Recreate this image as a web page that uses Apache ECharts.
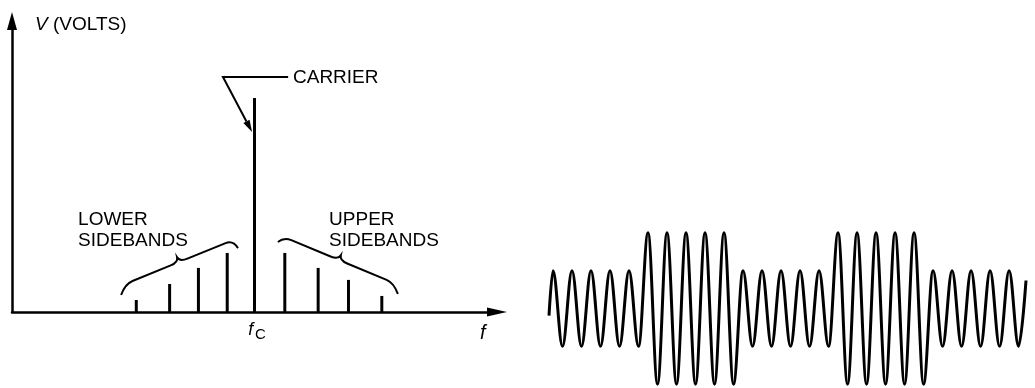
<!DOCTYPE html>
<html>
<head>
<meta charset="utf-8">
<script src="https://cdn.jsdelivr.net/npm/echarts@6.0.0/dist/echarts.min.js"></script>
<style>
html, body { margin: 0; padding: 0; background: #fff; }
#main { width: 1035px; height: 388px; }
</style>
</head>
<body>
<div id="main"></div>
<script>
// spectrum lines: offset from the carrier (in sideband spacings) and height
var lineFreq = [-3.9, -2.8, -1.85, -0.9, 0, 1.0, 2.1, 3.1, 4.2];
var lineVolts = [0.56, 1.31, 2.06, 2.76, 10, 2.76, 2.06, 1.5, 0.75];

// modulated wave: turning points (time in carrier cycles)
var waveTime = [-0.21,
  0, 0.5, 1, 1.5, 2, 2.5, 3, 3.5, 4, 4.5,
  5, 5.5, 6, 6.5, 7, 7.5, 8, 8.5, 9, 9.5,
  10, 10.5, 11, 11.5, 12, 12.5, 13, 13.5, 14, 14.5,
  15, 15.5, 16, 16.5, 17, 17.5, 18, 18.5, 19, 19.5,
  20, 20.5, 21, 21.5, 22, 22.5, 23, 23.5, 24, 24.5,
  24.89];
var waveVolts = [-0.19,
  1, -1, 1, -1, 1, -1, 1, -1, 1, -1,
  2, -2, 2, -2, 2, -2, 2, -2, 2, -2,
  1, -1, 1, -1, 1, -1, 1, -1, 1, -1,
  2, -2, 2, -2, 2, -2, 2, -2, 2, -2,
  1, -1, 1, -1, 1, -1, 1, -1, 1, -1,
  0.74];

var FONT = '"Liberation Sans", Arial, sans-serif';

// curly brace between two corners, hooks drop toward the lines
function bracePath(a, b, endA, endB, tip) {
  var dx = b[0] - a[0], dy = b[1] - a[1];
  var len = Math.sqrt(dx * dx + dy * dy);
  var ux = dx / len, uy = dy / len;
  var nx = uy, ny = -ux;
  if (ny > 0) { nx = -nx; ny = -ny; }
  function p(s, t) {
    return (a[0] + ux * s + nx * t).toFixed(1) + ' ' + (a[1] + uy * s + ny * t).toFixed(1);
  }
  var h = len / 2;
  return 'M' + (a[0] + endA[0]).toFixed(1) + ' ' + (a[1] + endA[1]).toFixed(1) +
    ' Q' + p(0, 0) + ' ' + p(8, 0) +
    ' L' + p(h - 9, 0) +
    ' Q' + p(h - 1, 0) + ' ' + p(h, tip) +
    ' Q' + p(h + 1, 0) + ' ' + p(h + 9, 0) +
    ' L' + p(len - 8, 0) +
    ' Q' + p(len, 0) + ' ' + (b[0] + endB[0]).toFixed(1) + ' ' + (b[1] + endB[1]).toFixed(1);
}

function drawNotes(params, api) {
  function pt(x, y) { return api.coord([x, y]); }
  function label(x, y, text, size, italic, rich) {
    var p = pt(x, y);
    return {
      type: 'text', x: p[0], y: p[1],
      style: {
        text: text, fill: '#000', fontSize: size, fontFamily: FONT,
        fontStyle: italic ? 'italic' : 'normal',
        align: 'left', verticalAlign: 'middle', rich: rich
      }
    };
  }
  var line = { stroke: '#000', fill: 'none', lineWidth: 2 };
  var kids = [];

  kids.push({ type: 'path', shape: { pathData: bracePath(pt(-4.27, 1.31), pt(-0.71, 3.36), [-4, 11], [5, 8], 5) }, style: line });
  kids.push({ type: 'path', shape: { pathData: bracePath(pt(0.97, 3.5), pt(4.6, 1.36), [-6, 5], [4, 11], 5) }, style: line });

  // carrier pointer
  var end = pt(1.11, 10.98), bend = pt(-1.04, 10.98), tip = pt(-0.08, 8.41);
  var ax = tip[0] - bend[0], ay = tip[1] - bend[1];
  var al = Math.sqrt(ax * ax + ay * ay);
  ax /= al; ay /= al;
  var base = [tip[0] - ax * 12, tip[1] - ay * 12];
  kids.push({ type: 'polyline', shape: { points: [end, bend, base] }, style: line });
  kids.push({
    type: 'polygon',
    shape: { points: [tip, [base[0] - ay * 3.5, base[1] + ax * 3.5], [base[0] + ay * 3.5, base[1] - ax * 3.5]] },
    style: { fill: '#000' }
  });

  kids.push(label(-7.24, 13.41, '{i|V} (VOLTS)', 19, false, { i: { fontStyle: 'italic', fontSize: 19, fontFamily: FONT } }));
  kids.push(label(1.27, 10.93, 'CARRIER', 19));
  kids.push(label(-5.82, 4.3, 'LOWER', 19));
  kids.push(label(-5.82, 3.32, 'SIDEBANDS', 19));
  kids.push(label(2.46, 4.3, 'UPPER', 19));
  kids.push(label(2.46, 3.32, 'SIDEBANDS', 19));
  kids.push(label(-0.21, -0.84, 'f', 18, true));
  kids.push(label(0.02, -1.05, 'C', 15));
  kids.push(label(7.44, -1.0, 'f', 20, true));

  return { type: 'group', children: kids };
}

var chart = echarts.init(document.getElementById('main'), null, { renderer: 'canvas' });

var axisInk = { color: '#000', width: 2.5 };

var option = {
  backgroundColor: '#fff',
  animation: false,
  grid: [
    { left: 12, top: 21, width: 485, height: 291 },
    { left: 549, top: 229, width: 477, height: 160 }
  ],
  xAxis: [
    {
      gridIndex: 0, type: 'value', min: -8, max: 8,
      axisLine: { show: true, lineStyle: axisInk, symbol: ['none', 'triangle'], symbolSize: [9, 20] },
      axisTick: { show: false }, axisLabel: { show: false }, splitLine: { show: false }
    },
    { gridIndex: 1, type: 'value', min: -0.21, max: 24.89, show: false }
  ],
  yAxis: [
    {
      gridIndex: 0, type: 'value', min: 0, max: 13.6,
      axisLine: { show: true, onZero: false, lineStyle: axisInk, symbol: ['none', 'triangle'], symbolSize: [10, 18] },
      axisTick: { show: false }, axisLabel: { show: false }, splitLine: { show: false }
    },
    { gridIndex: 1, type: 'value', min: -2.1, max: 2.1, show: false }
  ],
  series: [
    {
      name: 'spectrum', type: 'bar', xAxisIndex: 0, yAxisIndex: 0,
      data: lineFreq.map(function (f, i) { return [f, lineVolts[i]]; }),
      barWidth: 3, itemStyle: { color: '#000' }, silent: true
    },
    {
      name: 'notes', type: 'custom', xAxisIndex: 0, yAxisIndex: 0,
      data: [[0, 0]], renderItem: drawNotes, silent: true, z: 5
    },
    {
      name: 'wave', type: 'line', xAxisIndex: 1, yAxisIndex: 1,
      data: waveTime.map(function (t, i) { return [t, waveVolts[i]]; }),
      smooth: 0.36, smoothMonotone: 'x', showSymbol: false, clip: false,
      lineStyle: { color: '#000', width: 3 }, silent: true
    }
  ]
};

chart.setOption(option);
</script>
</body>
</html>
